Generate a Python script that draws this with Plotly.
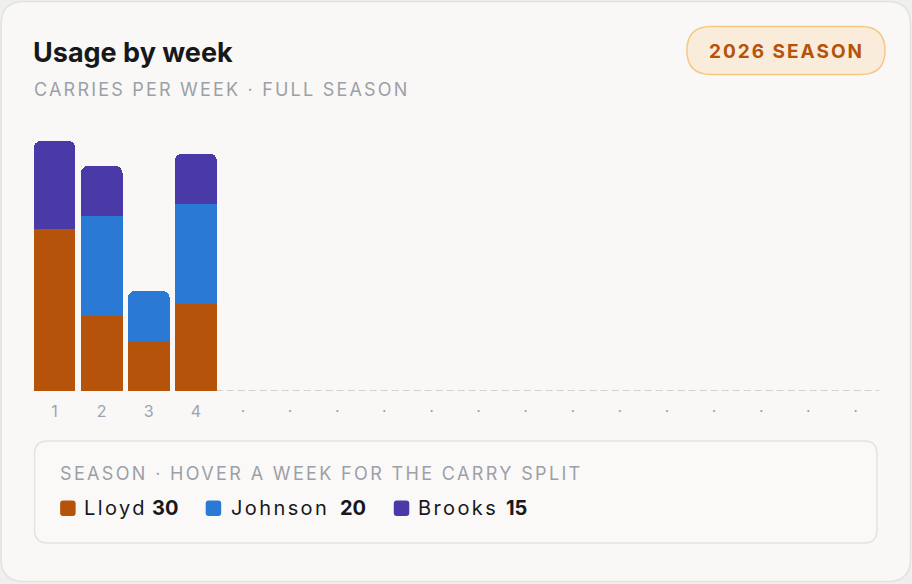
import plotly.graph_objects as go

# ---------------- data ----------------
weeks_played = [1, 2, 3, 4]
lloyd = [13, 6, 4, 7]
johnson = [0, 8, 4, 8]
brooks = [7, 4, 0, 4]
all_weeks = list(range(1, 19))
tick_text = ["1", "2", "3", "4"] + ["·"] * 14
players = ["Lloyd", "Johnson", "Brooks"]
season_totals = [30, 20, 15]
colors = ["#b5530b", "#2979d5", "#4a3aa8"]

# ---------------- geometry helpers ----------------
W, H = 912, 584
L, R, T, B = 31.4, 879.0, 141.0, 391.0


def px(x):
    return (x - L) / (R - L)


def py(y):
    return (B - y) / (B - T)


def rrect(x0, y0, x1, y1, r):
    pts = [
        f"M {px(x0 + r)} {py(y0)}",
        f"L {px(x1 - r)} {py(y0)}",
        f"Q {px(x1)} {py(y0)} {px(x1)} {py(y0 + r)}",
        f"L {px(x1)} {py(y1 - r)}",
        f"Q {px(x1)} {py(y1)} {px(x1 - r)} {py(y1)}",
        f"L {px(x0 + r)} {py(y1)}",
        f"Q {px(x0)} {py(y1)} {px(x0)} {py(y1 - r)}",
        f"L {px(x0)} {py(y0 + r)}",
        f"Q {px(x0)} {py(y0)} {px(x0 + r)} {py(y0)}",
        "Z",
    ]
    return " ".join(pts)


FONT = "Inter, 'Noto Sans', sans-serif"

fig = go.Figure()
for name, vals, col in zip(players, [lloyd, johnson, brooks], colors):
    fig.add_trace(go.Bar(
        x=weeks_played, y=vals, name=name, marker_color=col,
        marker_line_width=0,
        hovertemplate=f"Week %{{x}}<br>{name}: %{{y}}<extra></extra>",
    ))

shapes = [
    # card
    dict(type="path", xref="paper", yref="paper", path=rrect(1.5, 1.5, 910.5, 581.5, 23),
         fillcolor="#f9f8f6", line=dict(color="#e4e2df", width=1.5), layer="below"),
    # badge
    dict(type="path", xref="paper", yref="paper", path=rrect(687, 26.5, 885, 74.5, 24),
         fillcolor="#f9ecdb", line=dict(color="#f6c884", width=1.5), layer="below"),
    # legend box
    dict(type="path", xref="paper", yref="paper", path=rrect(35, 441, 877, 543, 13),
         fillcolor="#faf9f8", line=dict(color="#e4e2df", width=1.5), layer="below"),
    # dashed baseline under empty weeks
    dict(type="line", xref="x", yref="y", x0=4.42, x1=18.5, y0=0, y1=0,
         line=dict(color="#d4d1cd", width=2, dash="7px,4px"), layer="below"),
]

# legend swatches
sw_x = [60.5, 206, 394]
for sx, col in zip(sw_x, colors):
    shapes.append(dict(type="path", xref="paper", yref="paper",
                       path=rrect(sx, 500.5, sx + 15.5, 516, 3),
                       fillcolor=col, line=dict(width=0), layer="above"))

annotations = [
    dict(text="Usage by week", x=px(31.5), y=py(53), xref="paper", yref="paper",
         xanchor="left", yanchor="middle", showarrow=False,
         font=dict(family=FONT, size=27, color="#17181c", weight=700)),
    dict(text="<span style='letter-spacing:2.2px'>CARRIES PER WEEK · FULL SEASON</span>",
         x=px(32.5), y=py(89), xref="paper", yref="paper",
         xanchor="left", yanchor="middle", showarrow=False,
         font=dict(family=FONT, size=18, color="#9ca0a8")),
    dict(text="<span style='letter-spacing:2px'><b>2026 SEASON</b></span>",
         x=px(787), y=py(51.5), xref="paper", yref="paper",
         xanchor="center", yanchor="middle", showarrow=False,
         font=dict(family=FONT, size=19, color="#b5530b")),
    dict(text="<span style='letter-spacing:2.35px'>SEASON · HOVER A WEEK FOR THE CARRY SPLIT</span>",
         x=px(58.5), y=py(473), xref="paper", yref="paper",
         xanchor="left", yanchor="middle", showarrow=False,
         font=dict(family=FONT, size=18, color="#9ca0a8")),
]
name_x = [82, 229, 416]
num_x = [150, 338, 504]
for nx, vx, name, tot in zip(name_x, num_x, players, season_totals):
    annotations.append(dict(
        text=f"<span style='letter-spacing:2.4px'>{name}</span>",
        x=px(nx), y=py(508), xref="paper", yref="paper",
        xanchor="left", yanchor="middle", showarrow=False,
        font=dict(family=FONT, size=20, color="#17181c")))
    annotations.append(dict(
        text=f"<b>{tot}</b>",
        x=px(vx), y=py(508), xref="paper", yref="paper",
        xanchor="left", yanchor="middle", showarrow=False,
        font=dict(family=FONT, size=20, color="#17181c")))

fig.update_layout(
    width=W, height=H,
    margin=dict(l=L, r=W - R, t=T, b=H - B, pad=0),
    paper_bgcolor="#efefef",
    plot_bgcolor="rgba(0,0,0,0)",
    barmode="stack",
    bargap=0.115,
    barcornerradius=7,
    showlegend=False,
    shapes=shapes,
    annotations=annotations,
    xaxis=dict(range=[0.5, 18.5], tickvals=all_weeks, ticktext=tick_text,
               showgrid=False, zeroline=False, showline=False, ticks="",
               tickfont=dict(family=FONT, size=16, color="#9ca3af"),
               ticklabelstandoff=9, fixedrange=True),
    yaxis=dict(range=[0, 20], visible=False, showgrid=False, zeroline=False,
               fixedrange=True),
    hoverlabel=dict(font=dict(family=FONT)),
)

fig.write_html("out.html", config={"displayModeBar": False})
